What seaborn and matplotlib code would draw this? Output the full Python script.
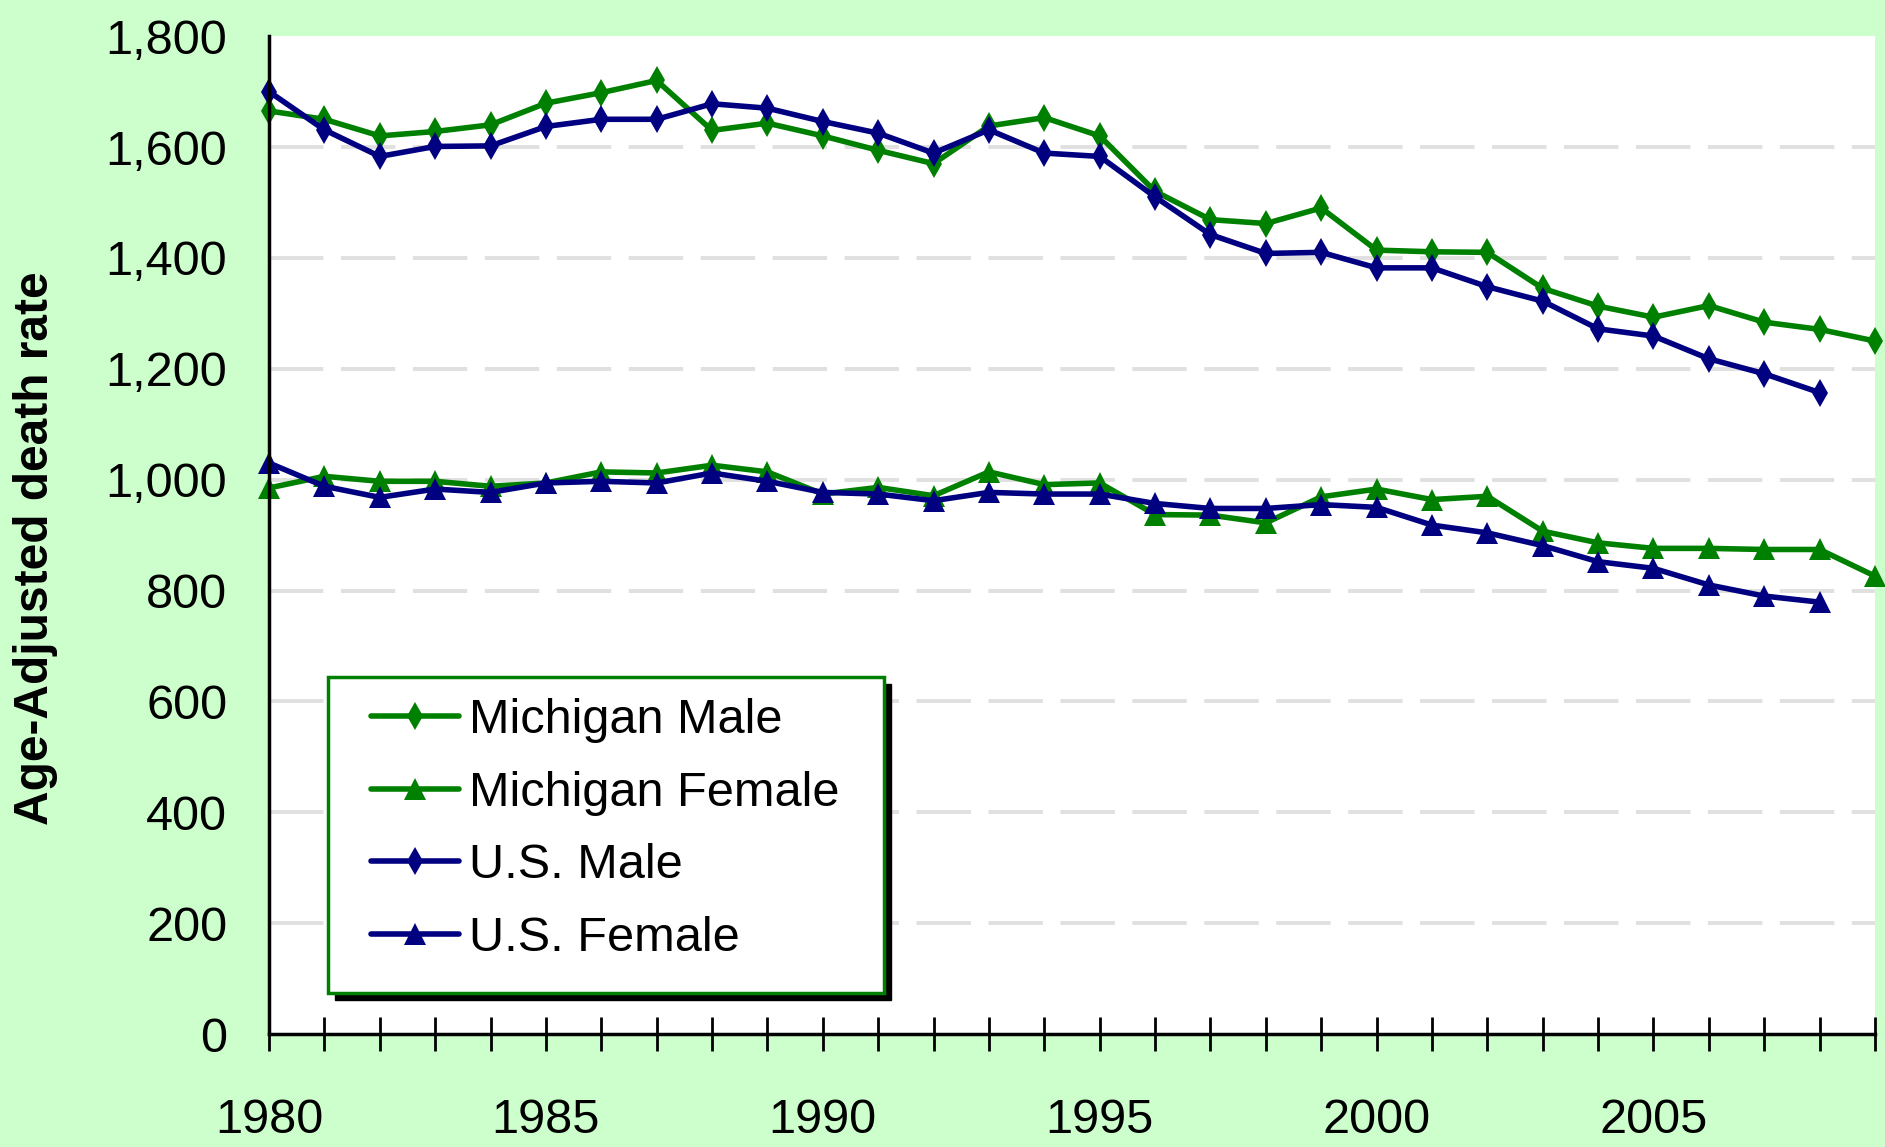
"""
Age-adjusted death rates, Michigan vs U.S., by sex, 1980-2009.
"""

import matplotlib
matplotlib.use('Agg')
import matplotlib.pyplot as plt
from matplotlib.patches import Rectangle
import seaborn as sns
import pandas as pd
import warnings

warnings.filterwarnings('ignore')

# ---- data ----
years = list(range(1980, 2010))

michigan_male = [1665, 1650, 1620, 1628, 1640, 1679, 1698, 1720, 1630, 1643,
                 1620, 1594, 1570, 1638, 1653, 1620, 1520, 1469, 1462, 1490,
                 1414, 1411, 1410, 1345, 1313, 1293, 1314, 1284, 1271, 1250]
michigan_female = [985, 1006, 997, 997, 988, 994, 1014, 1012, 1026, 1014,
                   974, 986, 971, 1014, 991, 994, 937, 936, 922, 969,
                   983, 964, 970, 907, 886, 876, 876, 874, 874, 826]
us_male = [1700, 1631, 1583, 1601, 1602, 1637, 1650, 1650, 1678, 1670,
           1646, 1625, 1589, 1631, 1589, 1583, 1510, 1442, 1408, 1410,
           1382, 1382, 1348, 1322, 1272, 1259, 1218, 1191, 1157]
us_female = [1030, 988, 968, 983, 977, 994, 997, 994, 1012, 997,
             977, 974, 962, 977, 974, 974, 957, 948, 948, 955,
             950, 918, 904, 881, 852, 840, 810, 790, 779]

series_names = ['Michigan Male', 'Michigan Female', 'U.S. Male', 'U.S. Female']
series_values = [michigan_male, michigan_female, us_male, us_female]
series_colors = ['#008000', '#008000', '#000080', '#000080']
series_markers = ['d', '^', 'd', '^']

y_ticks = list(range(0, 2000, 200))
x_major = [1980, 1985, 1990, 1995, 2000, 2005]

# ---- style ----
sns.set_style('white', {'text.color': 'black', 'axes.labelcolor': 'black',
                        'xtick.color': 'black', 'ytick.color': 'black'})
plt.rcParams['font.family'] = ['Liberation Sans', 'DejaVu Sans']

BG = '#CCFFCC'
FS = 35
fig = plt.figure(figsize=(18.85, 11.47), dpi=100, facecolor=BG)
ax = fig.add_axes([0.1427, 0.0985, 0.852, 0.870])
ax.set_facecolor('white')

for name, vals, col, mk in zip(series_names, series_values, series_colors, series_markers):
    df = pd.DataFrame({'year': years[:len(vals)], 'rate': vals})
    ms = 14 if mk == 'd' else 15.5
    sns.lineplot(data=df, x='year', y='rate', ax=ax, color=col, marker=mk,
                 markersize=ms, markeredgewidth=0, linewidth=4, label=name,
                 clip_on=False, zorder=3)

ax.set_xlim(1980, 2009)
ax.set_ylim(0, 1800)

# dashed gridlines
for v in y_ticks[1:-1]:
    ax.axhline(v, color='#E0E0E0', linewidth=2.8, linestyle=(0, (14, 4.5)), zorder=1)

ax.set_yticks(y_ticks)
ax.set_yticklabels([f'{v:,}' for v in y_ticks])
ax.set_xticks(x_major)
ax.set_xticklabels([str(v) for v in x_major])
ax.set_xticks(years, minor=True)

ax.tick_params(axis='y', which='major', direction='inout', length=22, width=2,
               color='black', labelcolor='black', labelsize=FS, pad=19)
ax.tick_params(axis='x', which='both', direction='inout', length=24, width=2,
               color='black', labelcolor='black', labelsize=FS, pad=34, bottom=True)

for side in ['top', 'right']:
    ax.spines[side].set_visible(False)
for side in ['left', 'bottom']:
    ax.spines[side].set_color('black')
    ax.spines[side].set_linewidth(2.5)
    ax.spines[side].set_zorder(4)

ax.set_xlabel('')
ax.set_ylabel('')
fig.text(36 / 1885, 1 - 548 / 1147, 'Age-Adjusted death rate', rotation=90,
         ha='center', va='center', fontsize=34.5, fontweight='bold', color='black')

# legend box with black drop shadow
bx, by, bw, bh = 0.0367, 0.0411, 0.3462, 0.3166
ax.add_patch(Rectangle((bx + 0.0045, by - 0.007), bw, bh, transform=ax.transAxes,
                       facecolor='black', edgecolor='black', zorder=5, clip_on=False))
ax.add_patch(Rectangle((bx, by), bw, bh, transform=ax.transAxes,
                       facecolor='white', edgecolor='#008000', linewidth=2.5,
                       zorder=6, clip_on=False))

leg = ax.legend(loc='center left', bbox_to_anchor=(0.0486, 0.205), frameon=False,
                fontsize=FS, borderpad=0, labelspacing=0.57, handlelength=1.8,
                handletextpad=0.2, labelcolor='black')
leg.set_zorder(7)

fig.savefig('out.png', dpi=100, facecolor=BG)
